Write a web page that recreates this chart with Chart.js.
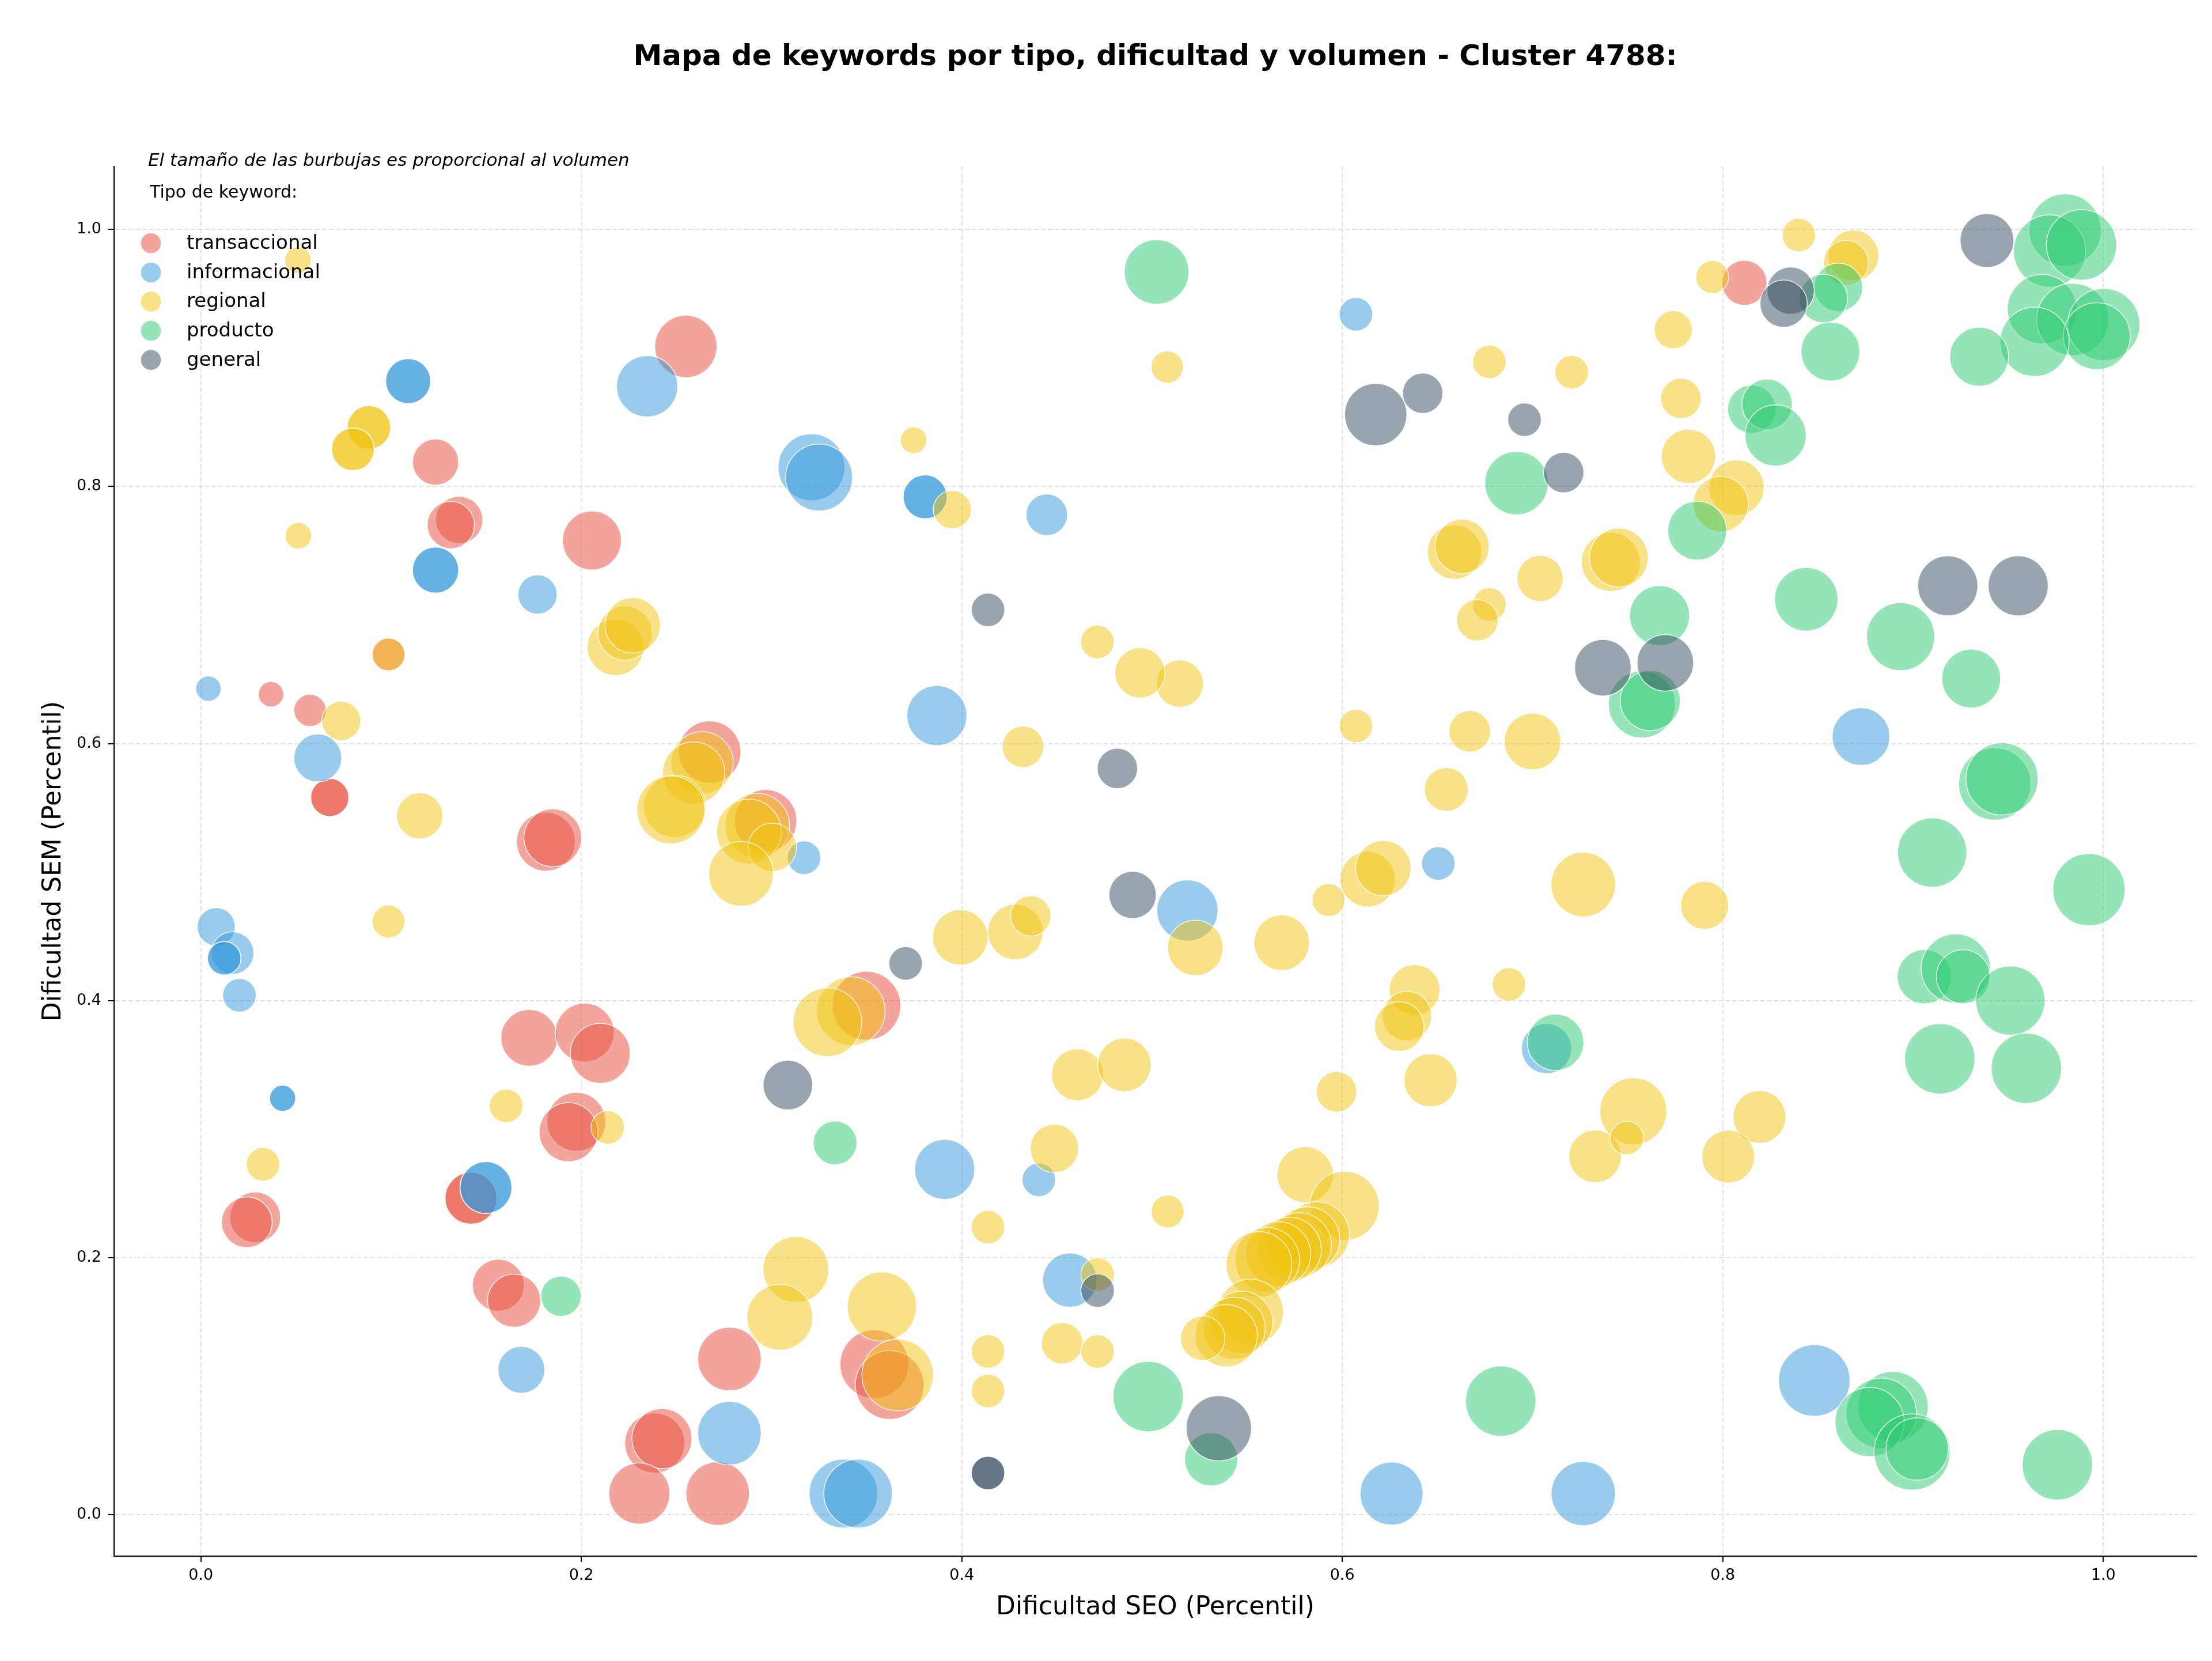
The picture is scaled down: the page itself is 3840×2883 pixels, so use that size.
<!DOCTYPE html>
<html>
<head>
<meta charset="utf-8">
<script src="https://cdn.jsdelivr.net/npm/chart.js@4.4.1/dist/chart.umd.min.js"></script>
<style>
html,body{margin:0;padding:0;background:#ffffff;}
#wrap{width:3840px;height:2883px;position:relative;}
</style>
</head>
<body>
<div id="wrap"><canvas id="c"></canvas></div>
<script>
// ---------------- DATA ----------------
const chartTitle = 'Mapa de keywords por tipo, dificultad y volumen - Cluster 4788:';
const subtitleText = 'El tamaño de las burbujas es proporcional al volumen';
const legendTitle = 'Tipo de keyword:';
const xAxisTitle = 'Dificultad SEO (Percentil)';
const yAxisTitle = 'Dificultad SEM (Percentil)';
const categories = ['transaccional', 'informacional', 'regional', 'producto', 'general'];
const tickValues = [0.0, 0.2, 0.4, 0.6, 0.8, 1.0];
const tickLabels = ['0.0', '0.2', '0.4', '0.6', '0.8', '1.0'];

const transaccionalX = [0.1234,0.1358,0.1314,0.2056,0.255,0.8114,0.0987,0.0369,0.0574,0.0678,0.0678,0.1814,0.185,0.1726,0.2018,0.21,0.2675,0.2969,0.3499,0.0286,0.0242,0.1974,0.1933,0.142,0.142,0.1564,0.1647,0.2386,0.2424,0.2305,0.2779,0.2717,0.354,0.3621];
const transaccionalY = [0.819,0.774,0.770,0.758,0.909,0.9585,0.6693,0.6383,0.6258,0.558,0.558,0.5236,0.5267,0.371,0.3751,0.3589,0.5934,0.54,0.396,0.2313,0.2275,0.3057,0.2976,0.2462,0.2462,0.1785,0.1665,0.0557,0.0592,0.0164,0.1211,0.0164,0.1171,0.1009];
const transaccionalVol = [4450,4675,4675,7230,8105,4230,2240,1345,2180,3030,3030,7230,6950,6675,7230,7515,8105,8105,9840,5380,5380,7230,7230,5630,5630,5630,5880,7515,7515,7810,8410,8410,9840,9840];

const informacionalX = [0.109,0.109,0.1234,0.1234,0.177,0.2346,0.321,0.325,0.3807,0.3807,0.4447,0.6072,0.004,0.0615,0.0081,0.0167,0.0123,0.0123,0.0203,0.3171,0.3869,0.6505,0.5186,0.7074,0.8727,0.043,0.043,0.1499,0.1499,0.1685,0.2779,0.3378,0.3455,0.391,0.4405,0.4568,0.6259,0.7267,0.8481];
const informacionalY = [0.882,0.882,0.735,0.735,0.716,0.878,0.815,0.807,0.792,0.792,0.778,0.934,0.6427,0.5888,0.4574,0.437,0.4329,0.4329,0.4041,0.5111,0.6218,0.5067,0.4701,0.3627,0.6054,0.324,0.324,0.2545,0.2545,0.1127,0.0634,0.0164,0.0164,0.2686,0.2605,0.1825,0.0164,0.0164,0.1044];
const informacionalVol = [4230,4230,4450,4450,3210,7810,9350,9350,4015,4015,3600,2340,1345,4790,3030,3805,2340,2340,2340,2340,7515,2340,7810,5260,6950,1420,1420,5630,5630,4580,8410,9840,9840,7515,2340,6140,8255,8625,10685];

const regionalX = [0.051,0.0884,0.0884,0.080,0.080,0.0513,0.3747,0.395,0.508,0.4713,0.774,0.778,0.782,0.6773,0.7206,0.659,0.663,0.704,0.7412,0.7454,0.6773,0.671,0.840,0.7945,0.8687,0.8648,0.8072,0.799,0.5146,0.4937,0.6072,0.667,0.700,0.6547,0.6134,0.6216,0.5928,0.7267,0.5228,0.5682,0.638,0.634,0.630,0.6876,0.597,0.6464,0.753,0.7905,0.8193,0.8029,0.5082,0.5805,0.6012,0.5865,0.5817,0.5773,0.572,0.5664,0.5606,0.5562,0.5518,0.5471,0.5431,0.539,0.5267,0.7329,0.7496,0.0987,0.0738,0.1151,0.0987,0.218,0.223,0.227,0.2635,0.2591,0.2491,0.2471,0.2925,0.2881,0.3004,0.284,0.4322,0.3992,0.4282,0.4363,0.3417,0.3294,0.4608,0.4855,0.0327,0.1605,0.2139,0.4487,0.4138,0.3128,0.3044,0.358,0.3663,0.4714,0.4138,0.4138,0.4528,0.4714];
const regionalY = [0.976,0.846,0.846,0.829,0.829,0.7616,0.836,0.782,0.893,0.679,0.922,0.8686,0.8235,0.897,0.889,0.749,0.7534,0.7285,0.7413,0.7447,0.7083,0.696,0.9956,0.963,0.9798,0.974,0.7992,0.7864,0.6466,0.655,0.6137,0.6095,0.6016,0.5643,0.4944,0.503,0.4782,0.4903,0.441,0.445,0.4083,0.3879,0.3798,0.4125,0.329,0.338,0.3139,0.4741,0.3094,0.2786,0.2359,0.2645,0.2402,0.2179,0.2144,0.2098,0.2063,0.2028,0.1982,0.1947,0.1577,0.1496,0.145,0.1392,0.1373,0.2788,0.293,0.6693,0.6176,0.5438,0.4615,0.675,0.686,0.692,0.585,0.5771,0.5511,0.5484,0.5361,0.5315,0.5192,0.4986,0.5975,0.4492,0.4534,0.4659,0.3918,0.3832,0.3423,0.35,0.2726,0.318,0.3013,0.285,0.2237,0.1908,0.1536,0.1619,0.1086,0.1868,0.127,0.0962,0.1334,0.127];
const regionalVol = [1470,3950,3950,3805,3805,1470,1470,3030,2180,2340,3030,3405,6140,2340,2340,6140,6140,4450,7230,7230,2340,3600,2340,2260,5380,4230,6405,6405,4675,5260,2340,3600,6675,4015,6405,6405,2260,8720,6405,6405,5380,5140,5140,2340,3405,5880,9350,4810,5805,5805,2240,6595,10010,9030,8720,8720,8720,8720,8720,9030,9030,8105,8105,8105,4120,5755,2340,2240,3210,4450,2240,6675,6140,6405,8105,8105,8105,9675,8720,8720,4905,8720,3600,6405,6405,3405,9840,9840,5630,5985,2340,2340,2340,4905,2340,9030,9030,10010,10685,2340,2340,2340,3600,2340];

const productoX = [0.5024,0.6916,0.8608,0.8529,0.8566,0.980,0.9718,0.9886,0.9678,0.984,1.0003,0.9966,0.9639,0.9348,0.8153,0.8233,0.8278,0.7866,0.8439,0.8935,0.7668,0.7575,0.7619,0.7121,0.9306,0.943,0.9468,0.9101,0.9925,0.906,0.9225,0.9264,0.9512,0.9141,0.9596,0.8895,0.8833,0.8772,0.8995,0.9022,0.9759,0.498,0.5311,0.6833,0.3334,0.1893];
const productoY = [0.967,0.8027,0.955,0.9463,0.905,0.9996,0.9833,0.988,0.938,0.930,0.926,0.917,0.9126,0.901,0.8602,0.864,0.8397,0.7657,0.7123,0.6832,0.6996,0.6304,0.6334,0.3675,0.6506,0.5685,0.5725,0.5152,0.4863,0.4186,0.4249,0.4186,0.4,0.3547,0.3473,0.084,0.0789,0.072,0.0487,0.0511,0.0388,0.0919,0.043,0.0883,0.2892,0.17];
const productoVol = [8720,8410,4905,4905,7230,10895,10895,10345,10010,10895,10895,9350,10010,7230,4905,5310,7810,7230,8410,9675,7515,9350,7515,6675,7230,10895,10895,10010,10895,6140,10010,6035,10010,10345,10345,10345,10345,10010,12110,8105,10345,10345,5880,10345,4015,3405];

const generalX = [0.4138,0.6176,0.6423,0.6958,0.7164,0.8357,0.832,0.9389,0.9183,0.9553,0.737,0.7698,0.4818,0.4898,0.3705,0.3086,0.4714,0.4138,0.4138,0.5351];
const generalY = [0.704,0.856,0.8726,0.852,0.8108,0.9524,0.9423,0.9914,0.7227,0.7227,0.659,0.6628,0.5806,0.4822,0.4289,0.3343,0.1744,0.0324,0.0324,0.0672];
const generalVol = [2340,8105,3405,2340,3405,4675,4675,6035,7515,7515,6675,6675,3405,4675,2340,5140,2340,2340,2340,8905];

// ---------------- STYLE ----------------
const FONT = "'DejaVu Sans', 'Liberation Sans', sans-serif";
const colorsRGB = [[231,76,60],[52,152,219],[241,196,15],[46,204,113],[52,73,94]];
const ALPHA = 0.5;
const seriesX = [transaccionalX, informacionalX, regionalX, productoX, generalX];
const seriesY = [transaccionalY, informacionalY, regionalY, productoY, generalY];
const seriesVol = [transaccionalVol, informacionalVol, regionalVol, productoVol, generalVol];
const rgba = (c, a) => `rgba(${c[0]},${c[1]},${c[2]},${a})`;

const datasets = categories.map((name, i) => ({
  label: name,
  data: seriesX[i].map((x, j) => ({ x: x, y: seriesY[i][j], r: 0.6 * Math.sqrt(seriesVol[i][j]) })),
  backgroundColor: rgba(colorsRGB[i], ALPHA),
  borderColor: 'rgba(255,255,255,0.85)',
  borderWidth: 1.5,
  hoverRadius: 0,
  clip: false,
  order: categories.length - i
}));

const textPlugin = {
  id: 'texts',
  afterDatasetsDraw(chart) {
    const ctx = chart.ctx;
    ctx.save();
    ctx.fillStyle = '#000';
    ctx.textBaseline = 'middle';
    // title
    ctx.font = `bold 50px ${FONT}`;
    ctx.textAlign = 'center';
    ctx.fillText(chartTitle, (chart.chartArea.left + chart.chartArea.right) / 2, 100);
    // subtitle
    ctx.textAlign = 'left';
    ctx.font = `italic 31px ${FONT}`;
    ctx.fillText(subtitleText, 257, 280);
    // legend title
    ctx.font = `30px ${FONT}`;
    ctx.fillText(legendTitle, 260, 335);
    // legend entries
    const rowY = [422, 473, 523.5, 574, 624.7];
    ctx.font = `34px ${FONT}`;
    categories.forEach((name, i) => {
      ctx.beginPath();
      ctx.arc(262, rowY[i], 18, 0, Math.PI * 2);
      ctx.fillStyle = rgba(colorsRGB[i], ALPHA);
      ctx.fill();
      ctx.lineWidth = 1.5;
      ctx.strokeStyle = 'rgba(255,255,255,0.85)';
      ctx.stroke();
      ctx.fillStyle = '#000';
      ctx.fillText(name, 324, rowY[i] + 1);
    });
    ctx.restore();
  }
};

const gridCfg = {
  color: 'rgba(176,176,176,0.35)',
  lineWidth: 2,
  tickColor: '#000',
  tickLength: 10,
  tickWidth: 2
};
const borderCfg = { display: true, color: '#000', width: 2.2, dash: [8, 4] };

new Chart(document.getElementById('c'), {
  type: 'bubble',
  data: { datasets },
  plugins: [textPlugin],
  options: {
    responsive: true,
    maintainAspectRatio: false,
    animation: false,
    devicePixelRatio: 1,
    layout: { autoPadding: false, padding: { top: 289, right: 27, left: 0, bottom: 0 } },
    plugins: { legend: { display: false }, tooltip: { enabled: false } },
    scales: {
      x: {
        type: 'linear', min: -0.0456, max: 1.049,
        afterBuildTicks: (s) => { s.ticks = tickValues.map(v => ({ value: v })); },
        afterFit: (s) => { s.height = 182; s.paddingLeft = 0; s.paddingRight = 0; },
        ticks: { callback: (v) => tickLabels[tickValues.indexOf(Math.round(v * 10) / 10)] ?? '', font: { family: FONT, size: 27 }, color: '#000', padding: 8, maxRotation: 0, autoSkip: false },
        grid: gridCfg,
        border: borderCfg,
        title: { display: true, text: xAxisTitle, font: { family: FONT, size: 44 }, color: '#000', padding: { top: 0, bottom: 66 } }
      },
      y: {
        type: 'linear', min: -0.0323, max: 1.049,
        afterBuildTicks: (s) => { s.ticks = tickValues.map(v => ({ value: v })); },
        afterFit: (s) => { s.width = 198; s.paddingTop = 0; s.paddingBottom = 0; },
        ticks: { callback: (v) => tickLabels[tickValues.indexOf(Math.round(v * 10) / 10)] ?? '', font: { family: FONT, size: 27 }, color: '#000', padding: 12, autoSkip: false },
        grid: gridCfg,
        border: borderCfg,
        title: { display: true, text: yAxisTitle, font: { family: FONT, size: 44 }, color: '#000', padding: { top: 67, bottom: 0 } }
      }
    }
  }
});
</script>
</body>
</html>
